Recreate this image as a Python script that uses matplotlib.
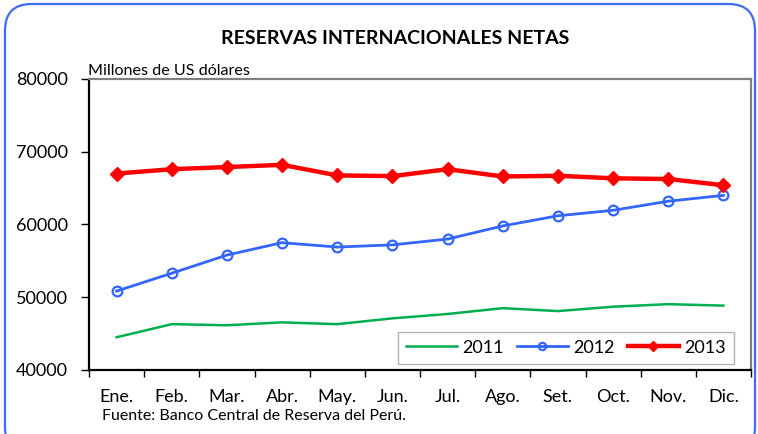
import matplotlib.pyplot as plt
from matplotlib.patches import FancyBboxPatch

plt.rcParams['font.family'] = ['Lato', 'DejaVu Sans']

months = ['Ene.', 'Feb.', 'Mar.', 'Abr.', 'May.', 'Jun.',
          'Jul.', 'Ago.', 'Set.', 'Oct.', 'Nov.', 'Dic.']
rin_2011 = [44500, 46300, 46150, 46550, 46300, 47100,
            47700, 48500, 48100, 48700, 49050, 48850]
rin_2012 = [50850, 53300, 55800, 57500, 56900, 57200,
            58000, 59800, 61200, 61950, 63200, 64000]
rin_2013 = [67000, 67600, 67900, 68200, 66750, 66650,
            67600, 66600, 66700, 66350, 66250, 65400]

W, H = 758, 434
fig = plt.figure(figsize=(W / 100, H / 100), dpi=100)

# rounded blue frame around the whole chart
frame = FancyBboxPatch((5 / W, -20 / H), 750 / W, 450 / H,
                       boxstyle='round,pad=0,rounding_size=0.035',
                       transform=fig.transFigure, fill=False,
                       edgecolor='#3D6DF2', linewidth=1.6, clip_on=False,
                       mutation_aspect=W / H)
fig.patches.append(frame)

ax = fig.add_axes([89 / W, (H - 370) / H, 662 / W, 291 / H])
x = list(range(len(months)))

ax.plot(x, rin_2011, color='#00B050', linewidth=1.8, label='2011')
ax.plot(x, rin_2012, color='#3366FF', linewidth=2.0, marker='o',
        markersize=7, markerfacecolor='none', markeredgewidth=1.6,
        label='2012')
ax.plot(x, rin_2013, color='#FF0000', linewidth=3.2, marker='D',
        markersize=7, label='2013')

ax.set_xlim(-0.5, 11.5)
ax.set_ylim(40000, 80000)
ax.set_yticks([40000, 50000, 60000, 70000, 80000])
ax.tick_params(axis='y', labelsize=13, length=6, width=1.0, pad=9)

# ticks between categories, month names centred under each point
ax.set_xticks([i - 0.5 for i in range(13)])
ax.set_xticklabels([])
ax.set_xticks(x, minor=True)
ax.set_xticklabels(months, minor=True, fontsize=13)
ax.tick_params(axis='x', which='major', length=5, width=1.0)
ax.tick_params(axis='x', which='minor', length=0, pad=14)

for side in ('top', 'right'):
    ax.spines[side].set_color('#808080')
    ax.spines[side].set_linewidth(1.6)
for side in ('left', 'bottom'):
    ax.spines[side].set_color('black')
    ax.spines[side].set_linewidth(1.6)

leg = ax.legend(loc='lower right', ncol=3, fontsize=13, frameon=True,
                fancybox=False, edgecolor='#A0A0A0', handlelength=2.8,
                columnspacing=0.75, handletextpad=0.3, markerscale=0.75,
                bbox_to_anchor=(0.974, 0.021), borderaxespad=0,
                borderpad=0.45)
leg.get_frame().set_linewidth(1.0)

fig.text(395 / W, 1 - 38 / H, 'RESERVAS INTERNACIONALES NETAS',
         ha='center', va='center', fontsize=14, fontweight='bold')
fig.text(88 / W, 1 - 71 / H, 'Millones de US dólares',
         ha='left', va='center', fontsize=11.6)
fig.text(102 / W, 1 - 416 / H, 'Fuente: Banco Central de Reserva del Perú.',
         ha='left', va='center', fontsize=11.5)

fig.savefig('out.png', dpi=100)
